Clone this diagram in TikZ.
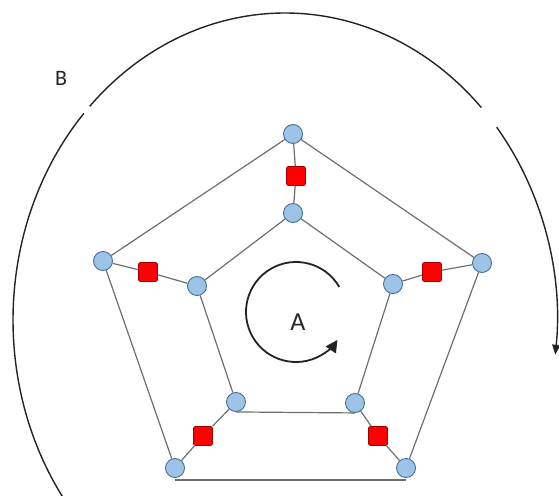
\documentclass[tikz,border=0pt]{standalone}
\usepackage{fontspec}
\setmainfont{Carlito}
\usetikzlibrary{arrows.meta}
\definecolor{nodeblue}{RGB}{157,195,230}
\definecolor{nodeborder}{RGB}{65,113,156}
\definecolor{sqred}{RGB}{255,0,0}
\definecolor{sqborder}{RGB}{160,0,0}
\definecolor{edgegray}{RGB}{110,110,110}
\definecolor{arcgray}{RGB}{35,35,35}
\begin{document}
\begin{tikzpicture}[x=1pt,y=-1pt,
  vtx/.style={circle,draw=nodeborder,fill=nodeblue,line width=0.9pt,minimum size=19pt,inner sep=0pt},
  sq/.style={rectangle,rounded corners=2pt,draw=sqborder,fill=sqred,line width=0.8pt,minimum size=19pt,inner sep=0pt},
  edge/.style={draw=edgegray,line width=1.2pt},
  outerarc/.style={draw=arcgray,line width=1.4pt},
  lbl/.style={inner sep=0pt,text=black!85}]
\useasboundingbox (0,0) rectangle (559,495);
% outer ellipse B (three segments)
\coordinate (ec) at (285,320);
\begin{scope}
\clip (0,0) rectangle (559,495);
\draw[outerarc] ([shift={(137.7:272pt and 307pt)}]ec) arc[start angle=137.7,end angle=222,x radius=272pt,y radius=307pt];
\end{scope}
\draw[outerarc] ([shift={(135.9:272pt and 307pt)}]ec) arc[start angle=135.9,end angle=43.8,x radius=272pt,y radius=307pt];
\draw[outerarc,-{Triangle[length=10pt,width=8pt]}] ([shift={(38.9:272pt and 307pt)}]ec) arc[start angle=38.9,end angle=-6.5,x radius=272pt,y radius=307pt];
\node[lbl,font=\fontsize{22}{24}\selectfont] (B) at (61,78) {B};
% vertices
\node[vtx] (ot) at (293,134) {};
\node[vtx] (ol) at (103,261) {};
\node[vtx] (orr) at (482,263) {};
\node[vtx] (obl) at (175,468) {};
\node[vtx] (obr) at (406,468) {};
\node[vtx] (it) at (293,213) {};
\node[vtx] (il) at (197,286) {};
\node[vtx] (ir) at (393,284) {};
\node[vtx] (ibl) at (236,402) {};
\node[vtx] (ibr) at (355,403) {};
\node[sq] (st) at (296,176) {};
\node[sq] (sl) at (148,272) {};
\node[sq] (sr) at (432,272) {};
\node[sq] (sbl) at (203,436) {};
\node[sq] (sbr) at (378,436) {};
% edges
\draw[edge] (ot) -- (ol);
\draw[edge] (ot) -- (orr);
\draw[edge] (ol) -- (obl);
\draw[edge] (orr) -- (obr);
\draw[edge] ([yshift=-2pt]obl.south) -- ([yshift=-2pt]obr.south);
\draw[edge] (it) -- (il);
\draw[edge] (it) -- (ir);
\draw[edge] (il) -- (ibl);
\draw[edge] (ir) -- (ibr);
\draw[edge] (ibl.south) -- (ibr.south);
\draw[edge] (ot) -- (st) -- (it);
\draw[edge] (ol) -- (sl) -- (il);
\draw[edge] (orr) -- (sr) -- (ir);
\draw[edge] (obl) -- (sbl) -- (ibl);
\draw[edge] (obr) -- (sbr) -- (ibr);
% rotation A
\coordinate (ac) at (296,312);
\draw[draw=arcgray,line width=1.8pt,-{Triangle[length=12pt,width=12pt]}] ([shift={(30:50pt)}]ac) arc[start angle=30,end angle=326,radius=50pt];
\node[lbl,font=\fontsize{26}{28}\selectfont] (A) at (298,322) {A};
\end{tikzpicture}
\end{document}
